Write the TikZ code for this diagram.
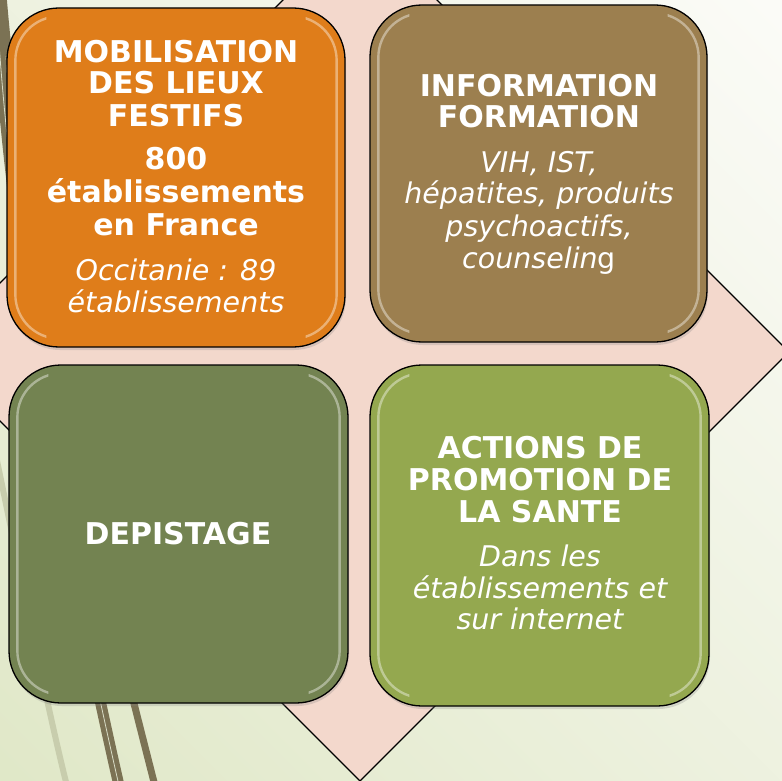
\documentclass[tikz,border=0pt]{standalone}
\usepackage{fontspec}
\setmainfont{DejaVu Sans}
\usetikzlibrary{shadows}
\definecolor{bgTop}{HTML}{FCFCF9}
\definecolor{bgBot}{HTML}{DFE7C6}
\definecolor{pinkD}{HTML}{F3D8CC}
\definecolor{orangeT}{HTML}{DF7D1A}
\definecolor{brownT}{HTML}{9C7F4F}
\definecolor{dgreenT}{HTML}{738351}
\definecolor{lgreenT}{HTML}{94A84F}
\definecolor{wispB}{HTML}{7B7254}
\definecolor{wispL}{HTML}{C8CDAD}
\tikzset{
  tile/.style={draw=black, line width=1.3pt, rounded corners=52pt, inner sep=0pt,
    drop shadow={opacity=.25, shadow xshift=1pt, shadow yshift=-3pt}},
  gloss/.style={draw=white, draw opacity=.4, line width=2.4pt, rounded corners=44pt},
  tb/.style={text=white, font=\bfseries\fontsize{30}{32}\selectfont, anchor=base, inner sep=0pt},
  ti/.style={text=white, font=\itshape\fontsize{28.5}{31}\selectfont, anchor=base, inner sep=0pt}
}
\begin{document}
\begin{tikzpicture}[x=1pt,y=-1pt]
\useasboundingbox (0,0) rectangle (782,781);
\clip (0,0) rectangle (782,781);
% background
\fill[shading=axis, top color=bgTop, bottom color=bgBot, shading angle=-45] (-200,-200) rectangle (982,981);
% wisps
\draw[wispL, line width=6pt, line cap=round] (68,790) .. controls (45,700) and (10,520) .. (-20,380);
\draw[wispB, line width=7pt] (156,790) .. controls (118,640) and (28,300) .. (3,-5);
\draw[wispB, line width=11pt] (120,790) .. controls (88,650) and (12,300) .. (-4,-5);
\draw[wispL!70!white, line width=0.8pt] (120,790) .. controls (88,650) and (12,300) .. (-4,-5);
% diamond
\draw[fill=pinkD, draw=black, line width=1.2pt] (360,-77) -- (789,352) -- (360,781) -- (-69,352) -- cycle;
% tiles
\node[tile, fill=orangeT, minimum width=338pt, minimum height=339pt] (b1) at (176,177.5) {};
\node[tile, fill=brownT, minimum width=337pt, minimum height=337pt] (b2) at (538.5,173.5) {};
\node[tile, fill=dgreenT, minimum width=339pt, minimum height=338pt] (b3) at (178.5,534) {};
\node[tile, fill=lgreenT, minimum width=339pt, minimum height=341pt] (b4) at (539.5,535.5) {};
\foreach \b in {b1,b2,b3,b4}{
  \begin{scope}
    \clip ([xshift=-5pt]\b.north west) rectangle ([xshift=40pt]\b.south west)
          ([xshift=-40pt]\b.north east) rectangle ([xshift=5pt]\b.south east);
    \draw[gloss] ([xshift=9pt,yshift=-9pt]\b.north west) rectangle ([xshift=-9pt,yshift=9pt]\b.south east);
  \end{scope}
}
% texts box 1
\node[tb] (t1a) at (176,63) {MOBILISATION};
\node[tb] (t1b) at (176,94) {DES LIEUX};
\node[tb] (t1c) at (176,127) {FESTIFS};
\node[tb] (t1d) at (176,170) {800};
\node[tb] (t1e) at (176,202) {établissements};
\node[tb] (t1f) at (176,235) {en France};
\node[ti] (t1g) at (176,280) {Occitanie : 89};
\node[ti] (t1h) at (176,312) {établissements};
% box 2
\node[tb] (t2a) at (539,97) {INFORMATION};
\node[tb] (t2b) at (539,128) {FORMATION};
\node[ti] (t2c) at (539,173) {VIH, IST,};
\node[ti] (t2d) at (539,204) {hépatites, produits};
\node[ti] (t2e) at (539,236) {psychoactifs,};
\node[ti] (t2f) at (539,268) {counselin\upshape g};
% box 3
\node[tb] (t3a) at (178,544) {DEPISTAGE};
% box 4
\node[tb] (t4a) at (540,458) {ACTIONS DE};
\node[tb] (t4b) at (540,490) {PROMOTION DE};
\node[tb] (t4c) at (540,522) {LA SANTE};
\node[ti] (t4d) at (540,566) {Dans les};
\node[ti] (t4e) at (540,598) {établissements et};
\node[ti] (t4f) at (540,629) {sur internet};
\end{tikzpicture}
\end{document}
